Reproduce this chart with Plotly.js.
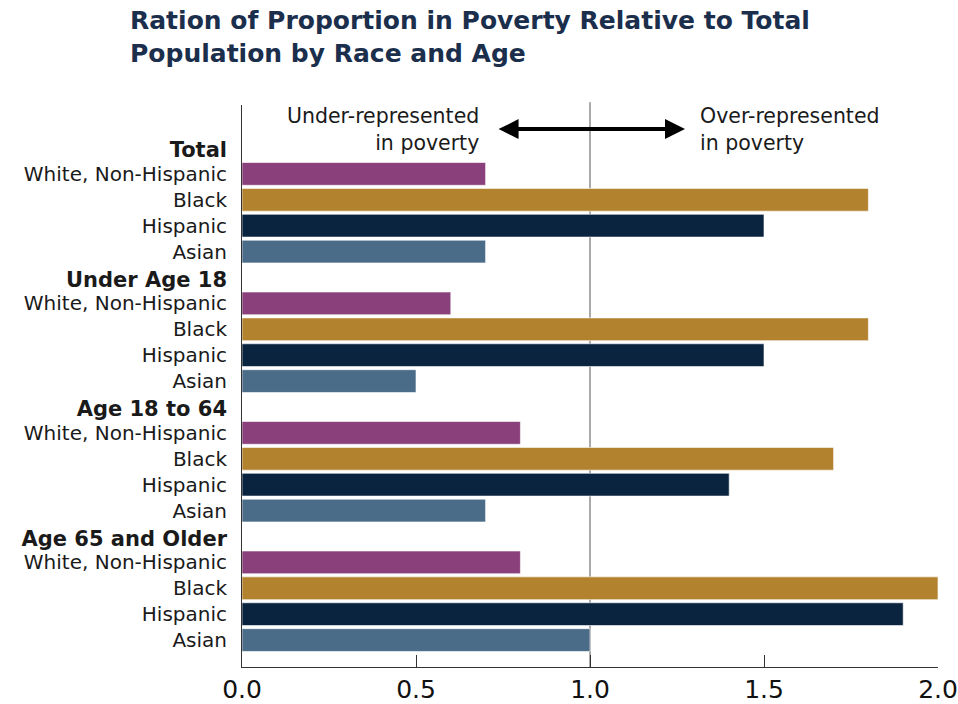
<!DOCTYPE html>
<html>
<head>
<meta charset="utf-8">
<script src="https://cdn.plot.ly/plotly-3.0.1.min.js"></script>
<style>html,body{margin:0;padding:0;background:#fff;}#chart{width:958px;height:704px;}</style>
</head>
<body>
<div id="chart"></div>
<script>
// ---- data ----
const groups = ["Total", "Under Age 18", "Age 18 to 64", "Age 65 and Older"];
const races = ["White, Non-Hispanic", "Black", "Hispanic", "Asian"];
const whiteVals = [0.7, 0.6, 0.8, 0.8];
const blackVals = [1.8, 1.8, 1.7, 2.0];
const hispanicVals = [1.5, 1.5, 1.4, 1.9];
const asianVals = [0.7, 0.5, 0.7, 1.0];
const xTickVals = [0, 0.5, 1.0, 1.5, 2.0];
const xTickText = ["0.0", "0.5", "1.0", "1.5", "2.0"];
const titleText = "Ration of Proportion in Poverty Relative to Total<br>Population by Race and Age";
const underText = "Under-represented<br>in poverty";
const overText = "Over-represented<br>in poverty";

// ---- styling ----
const colors = ["#8A407B", "#B2822F", "#0A233F", "#4B6C88"];
const seriesVals = [whiteVals, blackVals, hispanicVals, asianVals];
const FONT = "DejaVu Sans, sans-serif";

const slot = 5; // header + 4 bars per group
const traces = races.map((race, r) => ({
  type: "bar",
  orientation: "h",
  name: race,
  x: seriesVals[r],
  y: groups.map((g, gi) => gi * slot + r + 1),
  marker: { color: colors[r], line: { color: "rgba(255,255,255,0.6)", width: 1 } },
  width: 0.88,
  hoverinfo: "x+name"
}));

// y tick labels
const tickvals = [], ticktext = [];
groups.forEach((g, gi) => {
  tickvals.push(gi * slot + 0.08);
  ticktext.push('<b><span style="font-size:21px">' + g + '</span></b>');
  races.forEach((race, r) => {
    tickvals.push(gi * slot + r + 1);
    ticktext.push(race);
  });
});

const layout = {
  width: 958, height: 704,
  paper_bgcolor: "#fff", plot_bgcolor: "#fff",
  margin: { l: 242, r: 20, t: 105, b: 37 },
  showlegend: false,
  barmode: "overlay",
  font: { family: FONT, color: "#1a1a1a" },
  xaxis: {
    range: [0, 2.0],
    tickvals: xTickVals, ticktext: xTickText,
    ticks: "inside", ticklen: 12, tickcolor: "#333", tickwidth: 1,
    showline: true, linecolor: "#333", linewidth: 1,
    showgrid: false, zeroline: false,
    tickfont: { family: FONT, size: 25, color: "#111" }
  },
  yaxis: {
    range: [20.04, -1.66],
    tickvals: tickvals, ticktext: ticktext,
    ticks: "", showgrid: false, zeroline: false,
    showline: true, linecolor: "#333", linewidth: 1,
    ticklabelstandoff: 10,
    tickfont: { family: FONT, size: 20, color: "#1a1a1a" }
  },
  shapes: [{
    type: "line", xref: "x", yref: "paper",
    x0: 1.0, x1: 1.0, y0: 0, y1: 1.005,
    line: { color: "#555", width: 1 }, layer: "below"
  }],
  annotations: [
    {
      xref: "paper", yref: "paper", x: -114 / 696, y: (667 - 4) / 562, xanchor: "left", yanchor: "top",
      text: "<b>" + titleText + "</b>", align: "left", showarrow: false,
      font: { family: FONT, size: 25, color: "#1B2F4D" }
    },
    {
      xref: "x", yref: "paper", x: 0.687, y: (667 - 129) / 562, xanchor: "right", yanchor: "middle",
      text: underText, align: "right", showarrow: false,
      font: { family: FONT, size: 20.5, color: "#1a1a1a" }
    },
    {
      xref: "x", yref: "paper", x: 1.31, y: (667 - 129) / 562, xanchor: "left", yanchor: "middle",
      text: overText, align: "left", showarrow: false,
      font: { family: FONT, size: 20.5, color: "#1a1a1a" }
    },
    {
      xref: "x", yref: "y", x: 1.273, y: -0.73, axref: "x", ayref: "y", ax: 0.733, ay: -0.73,
      text: "", showarrow: true, arrowside: "end+start", arrowhead: 2,
      arrowwidth: 4, arrowsize: 1, arrowcolor: "#000", standoff: 0, startstandoff: 0
    }
  ]
};

Plotly.newPlot("chart", traces, layout, { displayModeBar: false, staticPlot: true });
</script>
</body>
</html>
